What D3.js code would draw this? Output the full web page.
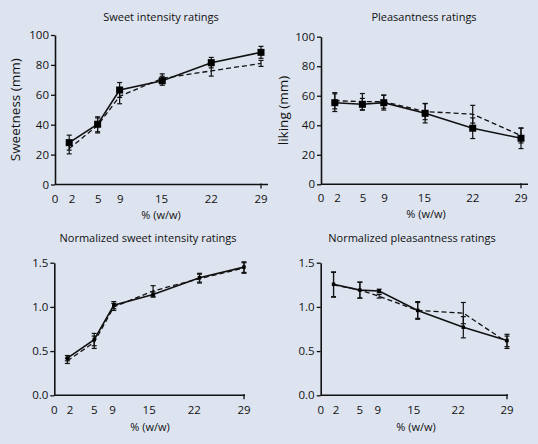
<!DOCTYPE html>
<html>
<head>
<meta charset="utf-8">
<script src="https://cdn.jsdelivr.net/npm/d3@7"></script>
<style>
  html, body { margin: 0; padding: 0; background: #dde4f0; }
  svg { display: block; font-family: "Open Sans", sans-serif; }
</style>
</head>
<body>
<svg id="chart" width="538" height="444"></svg>
<script>
// ---- data ----
const xTickLabels = ["0", "2", "5", "9", "15", "22", "29"];
const xTickPosTop = [0, 2.4, 6.1, 9.2, 15, 22, 29];
const xTickPosBottom = [0, 2.4, 6.1, 8.9, 14.5, 21.4, 29];
const xTop = [2, 6, 9.1, 15.1, 22, 29];
const xBottom = [2, 6.1, 9.1, 15.1, 22.2, 29];

// Sweet intensity (mm)
const sweetSolid = [28, 40.3, 63.2, 69.4, 81.5, 88.4];
const sweetSolidErr = [5, 5, 5, 3, 3.5, 4];
const sweetDashed = [24, 39.5, 59, 71, 76, 81];
const sweetDashedErr = [3.5, 5, 5, 3, 3.5, 2];

// Pleasantness (mm)
const likeSolid = [55.3, 54.2, 55.3, 48.1, 38, 31.2];
const likeSolidErr = [6, 4, 5, 6.5, 7, 7];
const likeDashed = [56.6, 56, 56, 49.3, 47.5, 33];
const likeDashedErr = [5.5, 5.5, 4.5, 5.5, 6, 5];

// Normalized sweet intensity
const nSweetSolid = [0.42, 0.63, 1.02, 1.14, 1.33, 1.45];
const nSweetSolidErr = [0.03, 0.07, 0.04, 0.03, 0.05, 0.06];
const nSweetDashed = [0.39, 0.6, 1.0, 1.18, 1.32, 1.44];
const nSweetDashedErr = [0.03, 0.07, 0.04, 0.06, 0.05, 0.06];

// Normalized pleasantness
const nLikeSolid = [1.256, 1.19, 1.18, 0.96, 0.77, 0.62];
const nLikeSolidErr = [0.14, 0.09, 0.02, 0.1, 0.12, 0.07];
const nLikeDashed = [1.25, 1.19, 1.12, 0.96, 0.93, 0.60];
const nLikeDashedErr = [0.14, 0.09, 0.02, 0.09, 0.12, 0.07];

const yTicksTop = [0, 20, 40, 60, 80, 100];
const yTicksBottom = [0, 0.5, 1.0, 1.5];

// ---- drawing ----
const svg = d3.select("#chart");
const ink = "#111";

function panel(cfg) {
  const g = svg.append("g");
  const x = d3.scaleLinear().domain([0, 29]).range([cfg.x0, cfg.x1]);
  const y = d3.scaleLinear().domain(cfg.yDomain).range([cfg.y0, cfg.y1]);

  // y axis
  const yAxis = d3.axisLeft(y).tickValues(cfg.yTicks).tickFormat(cfg.yFmt)
    .tickSizeInner(4).tickSizeOuter(0).tickPadding(2);
  const ya = g.append("g").attr("transform", `translate(${cfg.x0},0)`).call(yAxis);
  ya.select(".domain").attr("stroke", ink).attr("stroke-width", 1.6);
  ya.selectAll(".tick line").attr("stroke", ink).attr("stroke-width", 1.3);
  ya.selectAll(".tick text").attr("fill", ink).attr("font-size", 11.5)
    .attr("font-family", "Open Sans, sans-serif");

  // x axis line
  g.append("line").attr("x1", cfg.x0).attr("x2", cfg.xEnd)
    .attr("y1", cfg.y0).attr("y2", cfg.y0)
    .attr("stroke", ink).attr("stroke-width", 1.6);
  g.append("line").attr("x1", x(29)).attr("x2", x(29))
    .attr("y1", cfg.y0 - 1).attr("y2", cfg.y0 + 4)
    .attr("stroke", ink).attr("stroke-width", 1.3);
  // x tick labels
  g.selectAll(".xl").data(xTickLabels).join("text")
    .attr("x", (d, i) => x(cfg.xTickPos[i]))
    .attr("y", cfg.y0 + cfg.xLabDy)
    .attr("text-anchor", "middle")
    .attr("font-size", 11.5).attr("fill", ink)
    .text(d => d);

  // titles
  g.append("text").attr("x", cfg.titleX).attr("y", cfg.titleY)
    .attr("text-anchor", "middle").attr("font-size", 11).attr("fill", ink)
    .text(cfg.title);
  g.append("text").attr("x", cfg.xTitleX).attr("y", cfg.y0 + cfg.xTitleDy)
    .attr("text-anchor", "middle").attr("font-size", 11).attr("fill", ink)
    .text("% (w/w)");
  if (cfg.yTitle) {
    g.append("text")
      .attr("transform", `translate(${cfg.yTitleX},${(cfg.y0 + cfg.y1) / 2}) rotate(-90)`)
      .attr("text-anchor", "middle").attr("font-size", 13.5).attr("fill", ink)
      .text(cfg.yTitle);
  }

  const line = d3.line().x(d => x(d[0])).y(d => y(d[1]));
  const capW = cfg.capW;

  function errbars(xs, ys, es) {
    const eg = g.append("g").attr("stroke", ink).attr("stroke-width", 1.2);
    xs.forEach((xv, i) => {
      const cx = x(xv), top = y(ys[i] + es[i]), bot = y(ys[i] - es[i]);
      eg.append("line").attr("x1", cx).attr("x2", cx).attr("y1", top).attr("y2", bot);
      eg.append("line").attr("x1", cx - capW).attr("x2", cx + capW).attr("y1", top).attr("y2", top);
      eg.append("line").attr("x1", cx - capW).attr("x2", cx + capW).attr("y1", bot).attr("y2", bot);
    });
  }

  // dashed series
  errbars(cfg.xs, cfg.dashed, cfg.dashedErr);
  g.append("path").datum(cfg.xs.map((v, i) => [v, cfg.dashed[i]]))
    .attr("d", line).attr("fill", "none").attr("stroke", ink)
    .attr("stroke-width", 1.3).attr("stroke-dasharray", "5,3");

  // solid series
  errbars(cfg.xs, cfg.solid, cfg.solidErr);
  g.append("path").datum(cfg.xs.map((v, i) => [v, cfg.solid[i]]))
    .attr("d", line).attr("fill", "none").attr("stroke", ink)
    .attr("stroke-width", 1.6);
  const m = cfg.marker;
  g.selectAll(".mk").data(cfg.xs.map((v, i) => [v, cfg.solid[i]])).join("rect")
    .attr("x", d => x(d[0]) - m / 2).attr("y", d => y(d[1]) - m / 2)
    .attr("width", m).attr("height", m).attr("fill", "#000");
}

panel({
  x0: 55, x1: 261, xEnd: 268, y0: 184.5, y1: 35, yDomain: [0, 100],
  yTicks: yTicksTop, yFmt: d3.format("d"), xTickPos: xTickPosTop,
  xLabDy: 18, xTitleDy: 34,
  title: "Sweet intensity ratings", titleX: 161, titleY: 21,
  xTitleX: 161, yTitle: "Sweetness (mm)", yTitleX: 20,
  xs: xTop, solid: sweetSolid, solidErr: sweetSolidErr,
  dashed: sweetDashed, dashedErr: sweetDashedErr, capW: 2.5, marker: 7
});
panel({
  x0: 321, x1: 521, xEnd: 528, y0: 184.3, y1: 36.7, yDomain: [0, 100],
  yTicks: yTicksTop, yFmt: d3.format("d"), xTickPos: xTickPosTop,
  xLabDy: 18, xTitleDy: 34,
  title: "Pleasantness ratings", titleX: 424, titleY: 21,
  xTitleX: 426, yTitle: "liking (mm)", yTitleX: 288,
  xs: xTop, solid: likeSolid, solidErr: likeSolidErr,
  dashed: likeDashed, dashedErr: likeDashedErr, capW: 2.5, marker: 7
});
panel({
  x0: 54.3, x1: 244, xEnd: 245, y0: 395.3, y1: 262.7, yDomain: [0, 1.5],
  yTicks: yTicksBottom, yFmt: d3.format(".1f"), xTickPos: xTickPosBottom,
  xLabDy: 19, xTitleDy: 36,
  title: "Normalized sweet intensity ratings", titleX: 148, titleY: 242,
  xTitleX: 150, yTitle: null,
  xs: xBottom, solid: nSweetSolid, solidErr: nSweetSolidErr,
  dashed: nSweetDashed, dashedErr: nSweetDashedErr, capW: 2.5, marker: 3.5
});
panel({
  x0: 320.7, x1: 507, xEnd: 508, y0: 395.3, y1: 262.7, yDomain: [0, 1.5],
  yTicks: yTicksBottom, yFmt: d3.format(".1f"), xTickPos: xTickPosBottom,
  xLabDy: 19, xTitleDy: 36,
  title: "Normalized pleasantness ratings", titleX: 412, titleY: 242,
  xTitleX: 416, yTitle: null,
  xs: xBottom, solid: nLikeSolid, solidErr: nLikeSolidErr,
  dashed: nLikeDashed, dashedErr: nLikeDashedErr, capW: 2.5, marker: 3.5
});
</script>
</body>
</html>
